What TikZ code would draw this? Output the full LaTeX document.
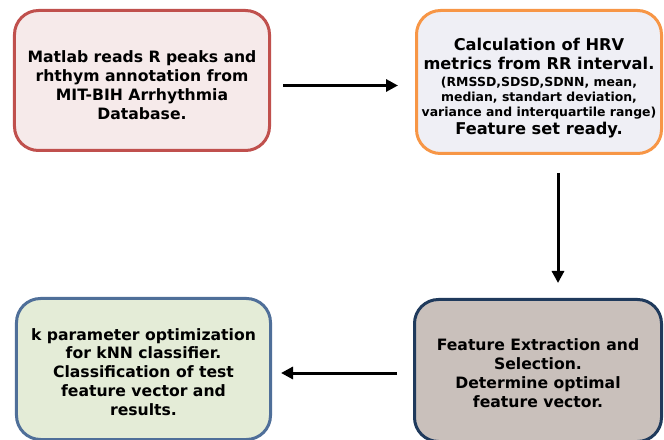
\documentclass[tikz,border=0pt]{standalone}
\usepackage{fontspec}
\setmainfont{DejaVu Sans}
\usetikzlibrary{arrows.meta}

\definecolor{readline}{HTML}{C0504D}
\definecolor{readfill}{HTML}{F6EAEA}
\definecolor{hrvline}{HTML}{F79646}
\definecolor{hrvfill}{HTML}{EFEFF5}
\definecolor{knnline}{HTML}{4F6F99}
\definecolor{knnfill}{HTML}{E4ECD7}
\definecolor{featline}{HTML}{1F3A5C}
\definecolor{featfill}{HTML}{C9C0BB}

\newcommand{\smalltxt}{\fontsize{12.5}{15}\selectfont}
\newcommand{\toplift}[1]{\rule{0pt}{#1}}

\begin{document}
\begin{tikzpicture}[x=1bp,y=-1bp,line width=3bp,
    box/.style={draw,rounded corners=24bp,align=center,inner sep=0pt,
      font=\bfseries\fontsize{15.7}{19}\selectfont},
    flow/.style={-{Triangle[length=12bp,width=12bp]},line width=3bp}]

      \useasboundingbox (0,0) rectangle (664,440);

      \node[box,draw=readline,fill=readfill,minimum width=255bp,minimum height=140bp]
        (read) at (142,80.5) {\toplift{22bp}Matlab reads R peaks and\\ rhthym annotation from\\ MIT-BIH Arrhythmia\\ Database.};
      \node[box,draw=hrvline,fill=hrvfill,minimum width=245bp,minimum height=143bp,
        font=\bfseries\fontsize{16.3}{15}\selectfont]
        (hrv) at (539,82) {\toplift{24.5bp}Calculation of HRV\\[4bp] metrics from RR interval.\\[2bp]
        {\smalltxt (RMSSD,SDSD,SDNN, mean,}\\ {\smalltxt median, standart deviation,}\\
        {\smalltxt variance and interquartile range)}\\[2bp] Feature set ready.};
      \node[box,draw=featline,fill=featfill,minimum width=247bp,minimum height=142bp]
        (feat) at (538,370.5) {\toplift{17bp}Feature Extraction and\\ Selection.\\ Determine optimal\\ feature vector.};
      \node[box,draw=knnline,fill=knnfill,minimum width=254bp,minimum height=141bp]
        (knn) at (143.5,369) {\toplift{18bp}k parameter optimization\\ for kNN classifier.\\ Classification of test\\ feature vector and\\ results.};

      \draw[flow,shorten <=12bp,shorten >=17bp] ([yshift=-5bp]read.east) -- ([yshift=-5bp]read.east -| hrv.west);
      \draw[flow,shorten <=18bp,shorten >=15bp] ([xshift=19bp]hrv.south) -- ([xshift=19bp]hrv.south |- feat.north);
      \draw[flow,shorten <=16bp,shorten >=9bp] ([yshift=-2.5bp]feat.west) -- ([yshift=-2.5bp]feat.west -| knn.east);

\end{tikzpicture}
\end{document}
